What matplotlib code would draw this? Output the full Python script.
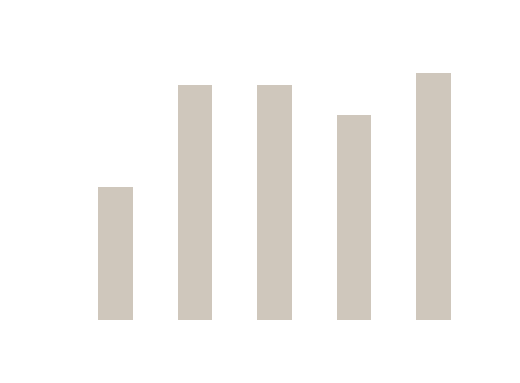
import matplotlib
matplotlib.use("Agg")
import matplotlib.pyplot as plt

categories = ["A", "B", "C", "D", "E"]
values = [54, 95, 95, 83, 100]

W, H = 520, 383
fig = plt.figure(figsize=(W / 100, H / 100), dpi=100)
step = 79.5
left_px = 115.5 - 0.5 * step
width_px = 5 * step
bottom_px = 320
height_px = 247
ax = fig.add_axes([left_px / W, 1 - bottom_px / H, width_px / W, height_px / H])
ax.bar(range(len(categories)), values, width=0.44, color="#cfc7bc")
ax.set_xlim(-0.5, len(categories) - 0.5)
ax.set_ylim(0, 100)
ax.axis("off")
fig.savefig("out.png", dpi=100)
